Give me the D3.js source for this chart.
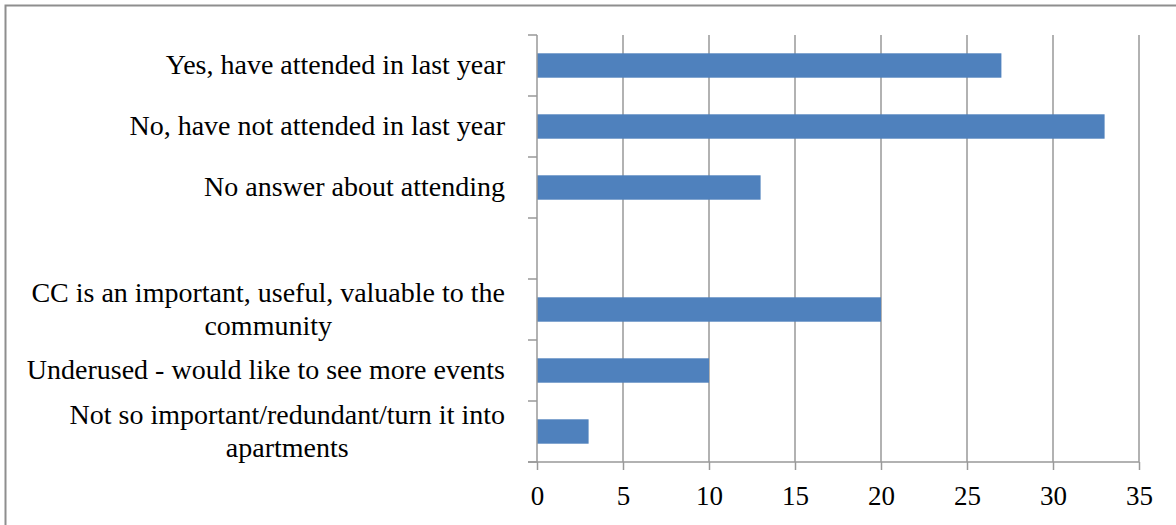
<!DOCTYPE html>
<html>
<head>
<meta charset="utf-8">
<script src="https://cdn.jsdelivr.net/npm/d3@7"></script>
<style>
  body { margin: 0; background: #fff; }
  svg text { font-family: "Liberation Serif", "DejaVu Serif", serif; fill: #000; }
</style>
</head>
<body>
<div id="chart"></div>
<script>
// categories top to bottom, "" is the empty spacer row
var categories = [
  "Yes, have attended in last year",
  "No, have not attended in last year",
  "No answer about attending",
  "",
  "CC is an important, useful, valuable to the\ncommunity",
  "Underused - would like to see more events",
  "Not so important/redundant/turn it into\napartments"
];
var counts = [27, 33, 13, null, 20, 10, 3];
var xTicks = [0, 5, 10, 15, 20, 25, 30, 35];

var W = 1176, H = 525;
var margin = {top: 35, right: 37, bottom: 63, left: 537};
var width = W - margin.left - margin.right,
    height = H - margin.top - margin.bottom;

var svg = d3.select("#chart").append("svg")
    .attr("width", W)
    .attr("height", H);

// outer frame
svg.append("rect")
    .attr("x", 5.5).attr("y", 5.5)
    .attr("width", W + 10).attr("height", H + 10)
    .attr("fill", "none")
    .attr("stroke", "#8e8e8e")
    .attr("stroke-width", 2);

var g = svg.append("g")
    .attr("transform", "translate(" + margin.left + "," + margin.top + ")");

var x = d3.scaleLinear().domain([0, 35]).range([0, width]);

var y = d3.scaleBand()
    .domain(d3.range(categories.length))
    .range([0, height])
    .paddingInner(0.6)
    .paddingOuter(0.3);

var lineColor = "#999999";

// vertical gridlines
g.selectAll(".grid")
    .data(xTicks.filter(function(d) { return d > 0; }))
    .enter().append("line")
    .attr("class", "grid")
    .attr("x1", function(d) { return x(d); })
    .attr("x2", function(d) { return x(d); })
    .attr("y1", 0).attr("y2", height)
    .attr("stroke", lineColor)
    .attr("stroke-width", 1.5);

// bars
g.selectAll(".bar")
    .data(counts.map(function(v, i) { return {i: i, value: v}; })
      .filter(function(d) { return d.value != null; }))
    .enter().append("rect")
    .attr("class", "bar")
    .attr("x", x(0))
    .attr("y", function(d) { return y(d.i); })
    .attr("width", function(d) { return x(d.value) - x(0); })
    .attr("height", y.bandwidth())
    .attr("fill", "#4f81bd");

// bottom axis
var xAxis = d3.axisBottom(x)
    .tickValues(xTicks)
    .tickSize(8)
    .tickPadding(16);

var gx = g.append("g")
    .attr("transform", "translate(0," + height + ")")
    .call(xAxis);
gx.select(".domain").attr("stroke", lineColor).attr("stroke-width", 1.5)
    .attr("d", "M-9,0H" + width);
gx.selectAll(".tick line").attr("stroke", lineColor).attr("stroke-width", 1.5);
gx.selectAll(".tick text")
    .style("font-size", "27px")
    .attr("fill", "#000");

// left axis: line + ticks at band boundaries
var step = height / categories.length;
g.append("line")
    .attr("x1", 0).attr("x2", 0)
    .attr("y1", 0).attr("y2", height)
    .attr("stroke", lineColor).attr("stroke-width", 1.5);
g.selectAll(".ytick")
    .data(d3.range(categories.length + 1))
    .enter().append("line")
    .attr("class", "ytick")
    .attr("x1", -9).attr("x2", 0)
    .attr("y1", function(d) { return d * step; })
    .attr("y2", function(d) { return d * step; })
    .attr("stroke", lineColor).attr("stroke-width", 1.5);

// category labels, wrapped lines centred within a right-aligned block
var labelRight = -32, lineH = 33, fs = 28;
categories.forEach(function(c, i) {
  if (!c) return;
  var lines = c.split("\n");
  var t = g.append("text").style("font-size", fs + "px");
  var maxW = 0;
  lines.forEach(function(l) {
    var tmp = g.append("text").style("font-size", fs + "px").text(l);
    maxW = Math.max(maxW, tmp.node().getComputedTextLength());
    tmp.remove();
  });
  var cy = y(i) + y.bandwidth() / 2;
  var y0 = cy - (lines.length - 1) * lineH / 2 + fs * 0.32;
  lines.forEach(function(l, k) {
    t.append("tspan")
      .attr("x", labelRight - maxW / 2)
      .attr("y", y0 + k * lineH)
      .attr("text-anchor", "middle")
      .text(l);
  });
});
</script>
</body>
</html>
